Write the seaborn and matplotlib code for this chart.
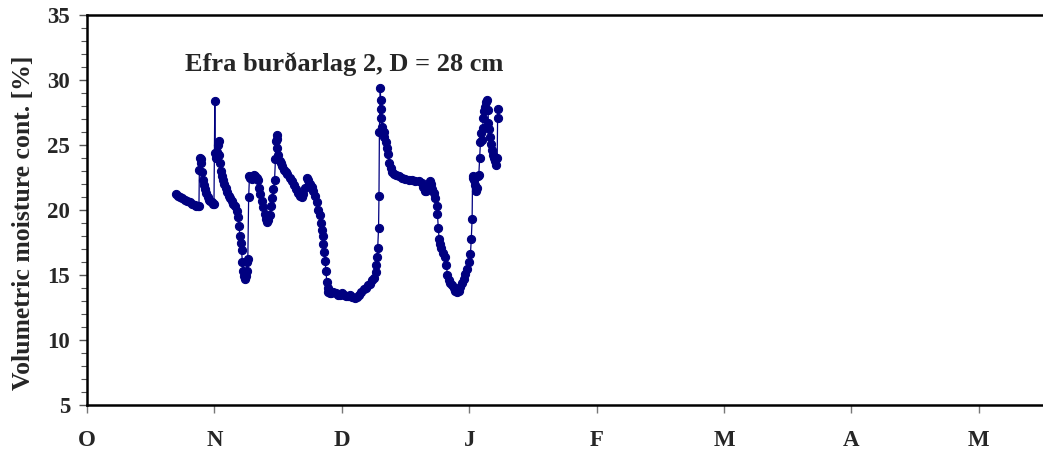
import matplotlib
matplotlib.use("Agg")
import matplotlib.pyplot as plt
import seaborn as sns
import pandas as pd
from matplotlib.ticker import MultipleLocator, FixedLocator

# ---- data (days since 1 October, volumetric moisture %) ----
days = [
    21.3, 21.7, 22.2, 22.7, 23.4, 24.0, 24.6, 25.2, 25.8, 26.2, 26.5, 26.8,
    26.9, 27.0, 27.2, 27.4, 27.6, 27.8, 28.0, 28.2, 28.5, 28.9, 29.2, 29.5, 29.9, 30.2, 30.4,
    30.6, 30.7, 30.9, 31.1, 31.3, 31.5, 31.7, 31.9, 32.1, 32.3, 32.6, 32.9, 33.2, 33.5,
    33.9, 34.2, 34.6, 35.0, 35.4, 35.8, 36.1, 36.4, 36.6, 36.8, 37.0, 37.2, 37.4, 37.6,
    37.8, 38.0, 38.2, 38.4, 38.5,
    38.7, 38.9, 39.1, 39.4, 39.7, 40.0, 40.3, 40.6, 40.9, 41.2, 41.5, 41.8, 42.1, 42.5,
    42.8, 43.1, 43.4, 43.7, 44.0, 44.3, 44.6, 44.9,
    45.1, 45.3, 45.4, 45.5, 45.6, 45.8, 46.1, 46.4, 46.8, 47.2, 47.6, 48.0, 48.5, 49.0,
    49.5, 50.0, 50.5, 51.0, 51.4, 51.8, 52.2, 52.6, 53.0, 53.4, 53.8, 54.2, 54.6, 55.0,
    55.4, 55.7, 56.0, 56.2, 56.4, 56.6, 56.8, 57.0, 57.2, 57.4, 57.6, 57.8, 58.1, 58.5,
    59.0, 59.5, 60.0, 60.5, 61.0, 61.5, 62.0, 62.5, 63.0, 63.5, 64.1, 64.6, 65.1, 65.7,
    66.2, 66.8, 67.3, 67.8, 68.3, 68.8, 69.1, 69.3, 69.5, 69.6, 69.8, 69.9,
    70.0, 70.2, 70.3, 70.4, 70.5, 70.6, 70.8, 71.0, 71.2, 71.5, 71.8, 72.1, 72.4, 72.7,
    73.0, 73.5, 74.0, 74.8, 75.5, 76.2, 77.0, 77.8, 78.6, 79.4, 80.1, 80.5, 80.8, 81.1,
    81.5, 82.0, 82.3, 82.7, 83.1, 83.4, 83.7, 83.9, 84.1, 84.3, 84.5, 84.8, 85.2, 85.6,
    86.0, 86.3, 86.6, 87.0, 87.4, 87.8, 88.2, 88.6, 89.0, 89.4, 89.8, 90.2, 90.6, 91.0,
    91.4, 91.8, 92.0, 92.2, 92.3, 92.5, 92.7, 92.9, 93.2, 93.4, 93.6, 93.8, 94.0, 94.2,
    94.3, 94.5, 94.7, 94.9, 95.1, 95.4, 95.6, 95.8, 96.0, 96.1, 96.3, 96.5, 96.7, 96.9,
    97.1, 97.4, 97.7, 98.0, 98.2, 98.3, 98.4,
]
moisture = [
    21.2, 21.1, 21.0, 20.9, 20.8, 20.7, 20.6, 20.5, 20.4, 20.3, 20.3, 20.3,
    23.1, 24.0, 23.9, 23.6, 22.9, 22.3, 21.9, 21.6, 21.3, 21.0, 20.8, 20.7, 20.6, 20.5, 20.5,
    28.4, 24.4, 24.0, 24.5, 25.0, 25.3, 24.2, 23.6, 23.0, 22.6, 22.3, 22.0, 21.7, 21.4,
    21.1, 20.9, 20.7, 20.5, 20.3, 19.9, 19.5, 18.8, 18.0, 17.5, 16.9, 16.0, 15.3, 14.9,
    14.7, 14.9, 15.3, 16.0, 16.2,
    21.0, 22.6, 22.5, 22.4, 22.6, 22.7, 22.6, 22.5, 22.3, 21.7, 21.2, 20.7, 20.2, 19.7,
    19.3, 19.1, 19.2, 19.6, 20.3, 20.9, 21.6, 22.3,
    23.9, 25.3, 25.8, 25.5, 24.8, 24.2, 23.8, 23.6, 23.4, 23.1, 22.9, 22.8, 22.5, 22.2,
    21.9, 21.6, 21.3, 21.1, 21.0, 21.2, 21.7, 22.5, 22.3, 22.0, 21.8, 21.5, 21.1, 20.6,
    20.0, 19.6, 19.0, 18.5, 18.0, 17.4, 16.8, 16.1, 15.3, 14.5, 14.0, 13.7, 13.6, 13.6,
    13.7, 13.6, 13.5, 13.5, 13.6, 13.5, 13.4, 13.4, 13.5, 13.3, 13.2, 13.3, 13.5, 13.7,
    13.9, 14.0, 14.2, 14.3, 14.6, 14.8, 15.2, 15.8, 16.4, 17.1, 18.6, 21.1,
    26.0, 29.4, 28.5, 27.8, 27.1, 26.4, 25.9, 26.0, 25.6, 25.2, 24.8, 24.3, 23.6, 23.2,
    22.9, 22.8, 22.7, 22.6, 22.5, 22.4, 22.3, 22.3, 22.2, 22.2, 22.1, 21.8, 21.5, 21.5,
    21.7, 22.2, 22.0, 21.6, 21.3, 20.9, 20.3, 19.7, 18.6, 17.8, 17.4, 17.1, 16.7, 16.4,
    15.8, 15.0, 14.6, 14.4, 14.2, 14.0, 13.8, 13.7, 13.8, 14.1, 14.4, 14.7, 15.1, 15.5,
    16.0, 16.6, 17.8, 19.3, 22.5, 22.6, 22.3, 21.9, 21.5, 21.7, 22.6, 22.7, 24.0, 25.2,
    25.9, 25.4, 26.3, 27.1, 27.6, 27.9, 28.3, 28.5, 27.7, 26.7, 26.2, 25.6, 25.1, 24.6,
    24.2, 24.0, 23.8, 23.5, 24.0, 27.1, 27.8,
]
month_labels = ["O", "N", "D", "J", "F", "M", "A", "M"]
month_ticks = [0, 30.5, 61, 91.5, 122, 152.5, 183, 213.5]
title_text = "Efra burðarlag 2, D = 28 cm"
ylabel_text = "Volumetric moisture cont. [%]"

df = pd.DataFrame({"day": days, "moisture": moisture})

sns.set_style("ticks")
plt.rcParams["font.family"] = ["Liberation Serif", "DejaVu Serif"]
plt.rcParams["font.weight"] = "bold"

W, H = 1043, 455
fig = plt.figure(figsize=(W / 100, H / 100), dpi=100)
px_per_day = 127.4 / 30.5
xmax = 244
ax_w_px = xmax * px_per_day
ax = fig.add_axes([87 / W, 50 / H, ax_w_px / W, 390 / H])

navy = "#000080"
sns.lineplot(data=df, x="day", y="moisture", ax=ax, sort=False, estimator=None,
             color=navy, linewidth=0.9, alpha=1.0,
             marker="o", markersize=5.9, markeredgecolor=navy, markerfacecolor=navy)
ax.lines[0].set_color(navy)

ax.set_xlim(0, xmax)
ax.set_ylim(5, 35)
ax.xaxis.set_major_locator(FixedLocator(month_ticks))
ax.set_xticklabels(month_labels)
ax.yaxis.set_major_locator(MultipleLocator(5))
ax.yaxis.set_minor_locator(MultipleLocator(1))

for s in ["left", "bottom", "top"]:
    ax.spines[s].set_linewidth(1.8)
    ax.spines[s].set_color("black")
ax.spines["right"].set_visible(False)

ax.tick_params(axis="y", which="major", length=6, width=1, color="#555555",
               labelsize=16.5, pad=6, direction="out")
ax.tick_params(axis="y", which="minor", length=4, width=0.8, color="#555555",
               direction="out")
ax.tick_params(axis="x", which="major", length=6, width=1, color="#777777",
               labelsize=16.5, pad=12, direction="out")
for lab in ax.get_xticklabels() + ax.get_yticklabels():
    lab.set_fontweight("bold")

ax.set_xlabel("")
ax.set_ylabel(ylabel_text, fontsize=18.5, fontweight="bold")
ax.yaxis.set_label_coords((35 - 87) / ax_w_px, 0.5 - 13 / 390)
ax.text(61.5, 31.2, title_text, fontsize=19, fontweight="bold",
        ha="center", va="center")

fig.savefig("out.png", dpi=100)
